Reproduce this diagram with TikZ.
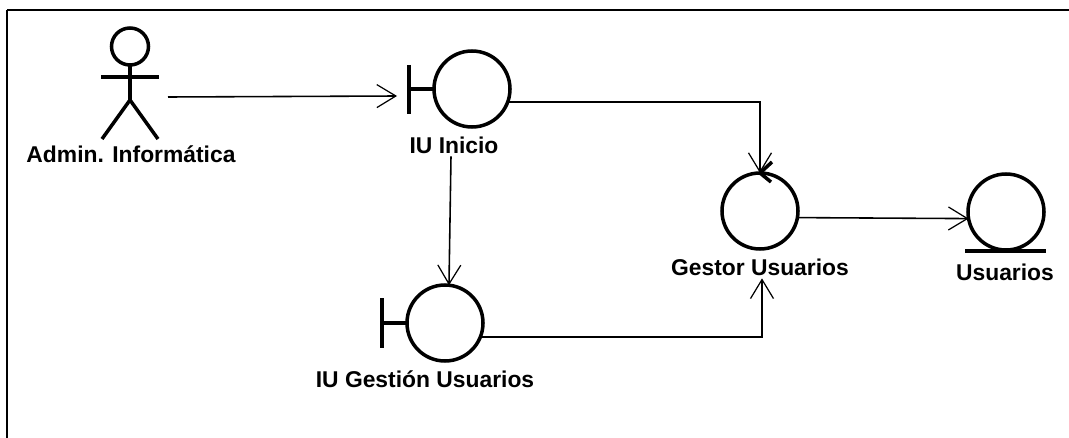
\documentclass[tikz,border=0pt]{standalone}
\usepackage{fontspec}
\setmainfont{Liberation Sans}
\usetikzlibrary{arrows.meta, positioning, calc}

\tikzset{
  lbl/.style={font=\fontsize{13pt}{15pt}\selectfont\bfseries, inner sep=0pt, outer sep=0pt},
  symb/.style={draw=black, circle, line width=2pt, minimum size=76*0.2mm, inner sep=0pt, outer sep=0pt},
  stick/.style={black, line width=2pt},
  link/.style={black, line width=0.9pt, -{Straight Barb[length=3.8mm, width=4.6mm, line width=0.7pt]}},
}

\begin{document}
\begin{tikzpicture}[x=0.2mm, y=-0.2mm]

% Frame
\useasboundingbox (0,0) rectangle (1069,438);
\draw[black, line width=1.4pt] (7,10) -- (1069,10);
\draw[black, line width=1.4pt] (7,10) -- (7,438);

% Actor
\node[draw=black, circle, line width=2pt, minimum size=37*0.2mm, inner sep=0pt, outer sep=0pt] (admin) at (130,46.5) {};
\coordinate (hip) at (130,100);
\draw[stick] (admin.south) -- (hip);
\draw[stick] (101,77) -- (159,77);
\draw[stick] (102,139) -- (hip) -- (158,139);
\node[lbl] (adminlbl) at (131,154) {Admin. Informática};
\coordinate (adminout) at (168,97);

% Boundary IU Inicio
\node[symb] (iuinicio) at (472,89) {};
\coordinate (barinicio) at (409,89);
\draw[stick] (409,65) -- (409,114);
\draw[stick] (barinicio) -- (iuinicio.west);
\node[lbl] (iuiniciolbl) at (454,145) {IU Inicio};

% Boundary IU Gestion
\node[symb] (iugestion) at (445,323) {};
\coordinate (bargestion) at (382,323);
\draw[stick] (382,298) -- (382,348);
\draw[stick] (bargestion) -- (iugestion.west);
\node[lbl] (iugestionlbl) at (425,379) {IU Gestión Usuarios};

% Control Gestor Usuarios
\node[symb] (gestor) at (760,211) {};
\draw[stick] (772,162) -- (gestor.north) -- (771,182);
\node[lbl] (gestorlbl) at (760,267) {Gestor Usuarios};

% Entity Usuarios
\node[symb] (usuarios) at (1006,212) {};
\draw[stick] (965,251) -- (1046,251);
\node[lbl] (usuarioslbl) at (1005,272) {Usuarios};

% Connectors
\draw[link] (adminout) -- ($(barinicio)+(-12,7)$);
\draw[link] (iuinicio.-20) -| (gestor.north);
\draw[link] ($(iuiniciolbl.south)+(-3,3)$) -- (iugestion.84);
\draw[link] (iugestion.-22) -| ($(gestorlbl.south)+(2,3)$);
\draw[link] (gestor.-10) -- (usuarios.-170);

\end{tikzpicture}
\end{document}
